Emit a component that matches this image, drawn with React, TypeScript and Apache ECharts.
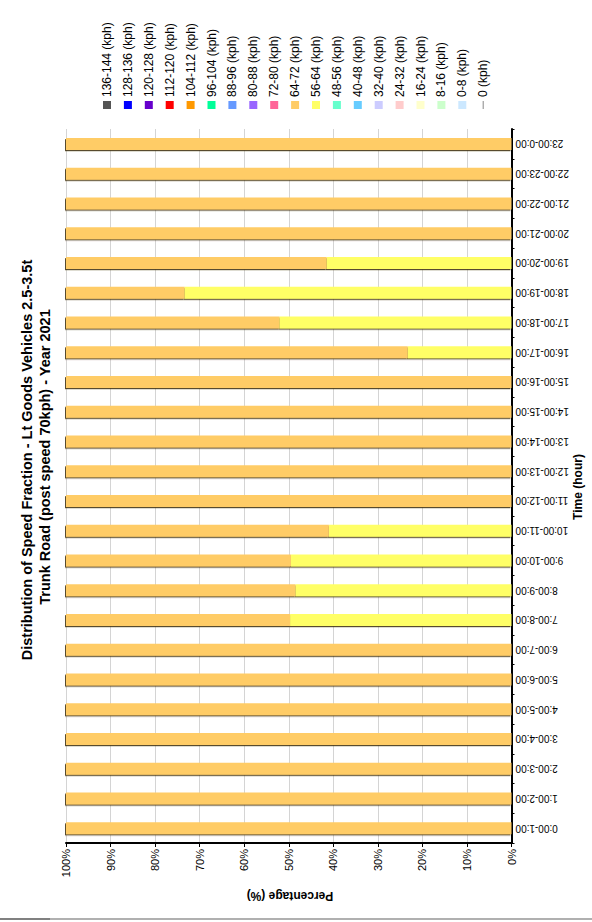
import React, { useEffect, useRef } from "react";
import * as echarts from "echarts";

const hours = [
  "0:00-1:00", "1:00-2:00", "2:00-3:00", "3:00-4:00", "4:00-5:00", "5:00-6:00",
  "6:00-7:00", "7:00-8:00", "8:00-9:00", "9:00-10:00", "10:00-11:00", "11:00-12:00",
  "12:00-13:00", "13:00-14:00", "14:00-15:00", "15:00-16:00", "16:00-17:00", "17:00-18:00",
  "18:00-19:00", "19:00-20:00", "20:00-21:00", "21:00-22:00", "22:00-23:00", "23:00-0:00",
];

// legend order (as shown, left to right)
const bandNames = [
  "136-144 (kph)", "128-136 (kph)", "120-128 (kph)", "112-120 (kph)", "104-112 (kph)",
  "96-104 (kph)", "88-96 (kph)", "80-88 (kph)", "72-80 (kph)", "64-72 (kph)",
  "56-64 (kph)", "48-56 (kph)", "40-48 (kph)", "32-40 (kph)", "24-32 (kph)",
  "16-24 (kph)", "8-16 (kph)", "0-8 (kph)", "0 (kph)",
];
const bandColors = [
  "#555555", "#0000ff", "#6600cc", "#ff0000", "#ff9900",
  "#00ff99", "#6699ff", "#9966ff", "#ff6699", "#ffcc66",
  "#ffff66", "#66ffcc", "#66ccff", "#ccccff", "#ffcccc",
  "#ffffcc", "#ccffcc", "#cce8ff", "#ffffff",
];

// percentage share per hour (bands with non-zero values)
const speed56to64 = [0, 0, 0, 0, 0, 0, 0, 49.7, 48.5, 49.5, 41.0, 0, 0, 0, 0, 0, 23.3, 52.1, 73.4, 41.5, 0, 0, 0, 0];
const speed64to72 = [100, 100, 100, 100, 100, 100, 100, 50.3, 51.5, 50.5, 59.0, 100, 100, 100, 100, 100, 76.7, 47.9, 26.6, 58.5, 100, 100, 100, 100];

const percentTicks = [0, 10, 20, 30, 40, 50, 60, 70, 80, 90, 100];

const titleLine1 = "Distribution of Speed Fraction - Lt Goods Vehicles 2.5-3.5t";
const titleLine2 = "Trunk Road (post speed 70kph) - Year 2021";
const xName = "Percentage (%)";
const yName = "Time (hour)";

const FONT = "'Liberation Sans', Arial, sans-serif";

export default function App() {
  const ref = useRef<HTMLDivElement>(null);
  useEffect(() => {
    if (!ref.current) return;
    const chart = echarts.init(ref.current, null, { renderer: "svg" });

    // series drawn in stacking order (slowest first, from 0%)
    const dataBands = [
      { name: "56-64 (kph)", data: speed56to64 },
      { name: "64-72 (kph)", data: speed64to72 },
    ];

    const series = dataBands.map((b) => ({
      name: b.name,
      type: "bar",
      stack: "total",
      barWidth: 12,
      data: b.data,
      itemStyle: {
        color: bandColors[bandNames.indexOf(b.name)],
        shadowColor: "rgba(70,55,20,0.9)",
        shadowOffsetY: 1.2,
        shadowOffsetX: -1,
        shadowBlur: 0,
      },
    }));

    const legendGraphics: any[] = [];
    bandNames.forEach((n, i) => {
      const cx = 107 + i * 20.9;
      if (n === "0 (kph)") {
        legendGraphics.push({
          type: "line",
          shape: { x1: cx, y1: 101, x2: cx, y2: 109 },
          style: { stroke: "#888", lineWidth: 1 },
        });
      } else {
        legendGraphics.push({
          type: "rect",
          shape: { x: cx - 4, y: 101, width: 8, height: 8 },
          style: { fill: bandColors[i] },
        });
      }
      legendGraphics.push({
        type: "text",
        x: cx,
        y: 97,
        rotation: Math.PI / 2,
        style: {
          text: n,
          font: `12px ${FONT}`,
          fill: "#000",
          textAlign: "left",
          textVerticalAlign: "middle",
        },
      });
    });

    chart.setOption({
      animation: false,
      backgroundColor: "#ffffff",
      grid: { left: 66, right: 80.5, top: 129, bottom: 79 },
      xAxis: {
        type: "value",
        inverse: true,
        min: 0,
        max: 100,
        interval: 10,
        axisLine: { show: true, lineStyle: { color: "#000", width: 2 } },
        axisTick: { show: true, length: 4, lineStyle: { color: "#000" } },
        axisLabel: {
          rotate: 90,
          margin: 6,
          fontSize: 11,
          fontFamily: FONT,
          color: "#000",
          formatter: (v: number) => (percentTicks.includes(v) ? `${v}%` : ""),
        },
        splitLine: { show: true, lineStyle: { color: "#d4d4d4", width: 1 } },
      },
      yAxis: {
        type: "category",
        position: "right",
        data: hours,
        axisLine: { show: true, lineStyle: { color: "#000", width: 2 } },
        axisTick: { show: true, length: 3, lineStyle: { color: "#000" } },
        axisLabel: {
          rotate: 180,
          margin: 4,
          fontSize: 10,
          fontFamily: FONT,
          color: "#000",
        },
        splitLine: { show: false },
      },
      series,
      graphic: [
        {
          type: "text",
          x: 27,
          y: 460,
          rotation: Math.PI / 2,
          style: {
            text: titleLine1,
            font: `bold 14.5px ${FONT}`,
            fill: "#000",
            textAlign: "center",
            textVerticalAlign: "middle",
          },
        },
        {
          type: "text",
          x: 45,
          y: 457,
          rotation: Math.PI / 2,
          style: {
            text: titleLine2,
            font: `bold 14.5px ${FONT}`,
            fill: "#000",
            textAlign: "center",
            textVerticalAlign: "middle",
          },
        },
        {
          type: "text",
          x: 290,
          y: 896,
          rotation: Math.PI,
          style: {
            text: xName,
            font: `bold 12px ${FONT}`,
            fill: "#000",
            textAlign: "center",
            textVerticalAlign: "middle",
          },
        },
        {
          type: "text",
          x: 578,
          y: 487,
          rotation: Math.PI / 2,
          style: {
            text: yName,
            font: `bold 12px ${FONT}`,
            fill: "#000",
            textAlign: "center",
            textVerticalAlign: "middle",
          },
        },
        {
          type: "line",
          shape: { x1: 0, y1: 919, x2: 592, y2: 919 },
          style: { stroke: "#b0b0b0", lineWidth: 2 },
        },
        {
          type: "line",
          shape: { x1: 0, y1: 919, x2: 50, y2: 919 },
          style: { stroke: "#808080", lineWidth: 2 },
        },
        ...legendGraphics,
      ],
    });
    return () => chart.dispose();
  }, []);

  return (
    <div
      ref={ref}
      style={{ position: "fixed", left: 0, top: 0, width: 592, height: 922 }}
    />
  );
}
